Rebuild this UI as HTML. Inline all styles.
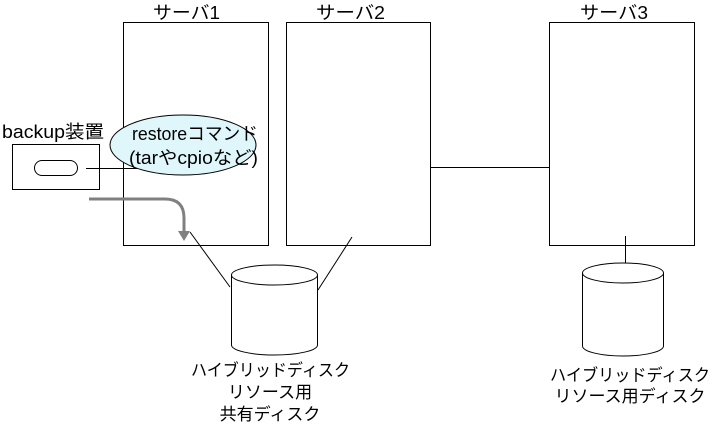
<!DOCTYPE html>
<html><head><meta charset="utf-8"><style>
body{margin:0;background:#fff;}
svg text{font-family:"Liberation Sans","Noto Sans CJK JP",sans-serif;font-size:17px;fill:#000;}
svg text.b{font-size:18px;}
</style></head><body>
<svg width="712" height="426" viewBox="0 0 712 426" xmlns="http://www.w3.org/2000/svg">
<g fill="none" stroke="#000" stroke-width="1">
<rect x="123.5" y="22.5" width="145" height="223"/>
<rect x="286.5" y="22.5" width="144" height="223"/>
<rect x="549.5" y="22.5" width="145" height="223"/>
<line x1="430" y1="167.5" x2="549" y2="167.5"/>
<rect x="12.5" y="144.5" width="87" height="45"/>
<rect x="34.5" y="160.5" width="43" height="15" rx="7.5"/>
<line x1="86" y1="168.5" x2="150" y2="168.5"/>
<line x1="190" y1="232" x2="230" y2="287"/>
<line x1="352" y1="237" x2="318" y2="290"/>
<line x1="625.5" y1="236" x2="625.5" y2="266"/>
</g>
<ellipse cx="183" cy="145" rx="73" ry="30" fill="#dff6fa" stroke="#000"/>
<path d="M89 199 H165 Q184 199 184 218 V232" fill="none" stroke="#808080" stroke-width="3"/>
<path d="M178 231 L190 231 L184 241 Z" fill="#808080"/>
<g fill="#fff" stroke="#000">
<path d="M231.5 275 V345 A43 10 0 0 0 317.5 345 V275"/>
<ellipse cx="274.5" cy="275" rx="43" ry="10"/>
<path d="M582.5 273 V346 A40.5 10 0 0 0 663.5 346 V273"/>
<ellipse cx="623" cy="273" rx="40.5" ry="10"/>
</g>
<text class="b" x="153" y="19" textLength="67" lengthAdjust="spacingAndGlyphs">サーバ1</text>
<text class="b" x="316" y="19" textLength="69" lengthAdjust="spacingAndGlyphs">サーバ2</text>
<text class="b" x="580" y="19" textLength="68" lengthAdjust="spacingAndGlyphs">サーバ3</text>
<text class="b" x="2" y="138" textLength="102" lengthAdjust="spacingAndGlyphs">backup装置</text>
<text class="b" x="132" y="140" textLength="126" lengthAdjust="spacingAndGlyphs">restoreコマンド</text>
<text class="b" x="129" y="164" textLength="129" lengthAdjust="spacingAndGlyphs">(tarやcpioなど)</text>
<text x="191" y="376" textLength="159" lengthAdjust="spacingAndGlyphs">ハイブリッドディスク</text>
<text x="270" y="398" text-anchor="middle">リソース用</text>
<text x="270" y="420" text-anchor="middle">共有ディスク</text>
<text x="550" y="381" textLength="160" lengthAdjust="spacingAndGlyphs">ハイブリッドディスク</text>
<text x="630" y="402" text-anchor="middle">リソース用ディスク</text>
</svg>
</body></html>
